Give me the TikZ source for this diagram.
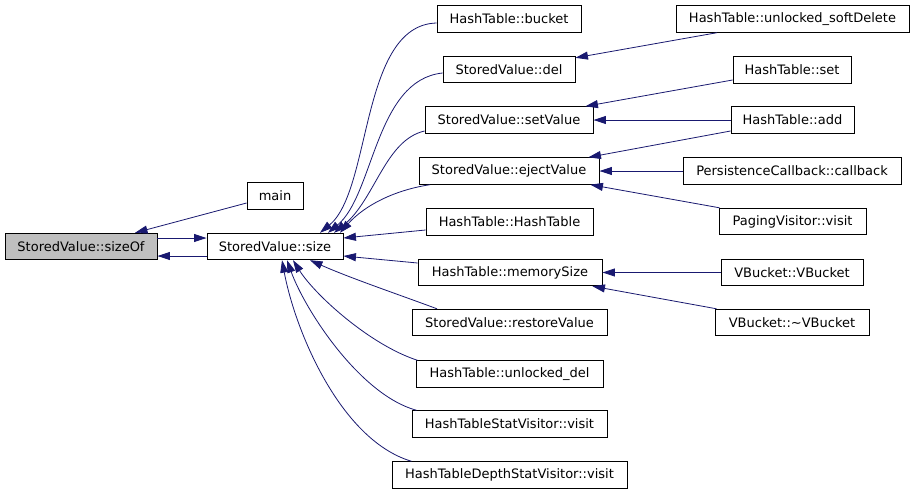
\documentclass[tikz,border=0pt]{standalone}
\usepackage{fontspec}
\setmainfont{DejaVu Sans}
\usetikzlibrary{arrows.meta,calc}
\definecolor{navyc}{RGB}{25,25,112}
\definecolor{grayfill}{RGB}{191,191,191}
\begin{document}
\begin{tikzpicture}[x=1pt,y=-1pt,
  fn/.style={draw=black,line width=0.9pt,fill=white,inner sep=0pt,minimum height=26.5pt,
    font=\fontsize{13}{15}\selectfont,text=black},
  cur/.style={fn,fill=grayfill},
  call/.style={draw=navyc,line width=0.8pt,-{Triangle[length=12.5pt,width=8pt]},fill=none}]
\fill[white] (0,0) rectangle (915,493);
\useasboundingbox (0,0) rectangle (915,493);
% nodes
\node[cur,minimum width=152pt] (sizeof) at (81,246.5) {StoredValue::sizeOf};
\node[fn,minimum width=136pt] (size) at (275,246.5) {StoredValue::size};
\node[fn,minimum width=56pt] (main) at (275,196) {main};
\node[fn,minimum width=144pt] (bucket) at (509,19) {HashTable::bucket};
\node[fn,minimum width=132pt] (del) at (509,69.5) {StoredValue::del};
\node[fn,minimum width=168pt] (setv) at (509,120) {StoredValue::setValue};
\node[fn,minimum width=180pt] (eject) at (509,171) {StoredValue::ejectValue};
\node[fn,minimum width=167pt] (htht) at (509.5,222) {HashTable::HashTable};
\node[fn,minimum width=184pt] (memsz) at (510,272.5) {HashTable::memorySize};
\node[fn,minimum width=195pt] (restore) at (509.5,322.5) {StoredValue::restoreValue};
\node[fn,minimum width=187pt] (udel) at (509.5,374) {HashTable::unlocked\_del};
\node[fn,minimum width=195pt] (statv) at (509.5,424) {HashTableStatVisitor::visit};
\node[fn,minimum width=235pt] (depthv) at (509.5,475) {HashTableDepthStatVisitor::visit};
\node[fn,minimum width=233pt] (softdel) at (792.5,19) {HashTable::unlocked\_softDelete};
\node[fn,minimum width=118pt] (hset) at (792,70) {HashTable::set};
\node[fn,minimum width=123pt] (hadd) at (792.5,120) {HashTable::add};
\node[fn,minimum width=218pt] (pcb) at (792,171) {PersistenceCallback::callback};
\node[fn,minimum width=147pt] (paging) at (792.5,221.5) {PagingVisitor::visit};
\node[fn,minimum width=142pt] (vb) at (792,272.5) {VBucket::VBucket};
\node[fn,minimum width=154pt] (vbd) at (792,322.5) {VBucket::\char"007EVBucket};
% edges into sizeOf
\draw[call] ($(main.west)+(0,7)$) -- ($(sizeof.north)+(54,0)$);
\draw[call] ($(sizeof.east)+(0,-8.5)$) -- ($(size.west)+(0,-8.5)$);
\draw[call] ($(size.west)+(0,9.5)$) -- ($(sizeof.east)+(0,9.5)$);
% edges into size
\draw[call] ($(bucket.west)+(0,4)$) .. controls (360,25) and (372,190) .. ($(size.north)+(45,0)$);
\draw[call] ($(del.west)+(0,3.5)$) .. controls (375,80) and (374,195) .. ($(size.north)+(53,0)$);
\draw[call] ($(setv.west)+(0,11)$) .. controls (385,140) and (375,200) .. ($(size.north)+(59,0)$);
\draw[call] ($(eject.south)+(-79,0)$) .. controls (395,190) and (365,205) .. ($(size.north)+(65,0)$);
\draw[call] ($(htht.west)+(0,8)$) -- ($(size.east)+(0,-8.5)$);
\draw[call] ($(memsz.west)+(0,-9.5)$) -- ($(size.east)+(0,9.5)$);
\draw[call] ($(restore.north)+(-72.5,0)$) .. controls (400,295) and (350,278) .. ($(size.south)+(35,0)$);
\draw[call] ($(udel.north west)+(2,0)$) .. controls (370,345) and (315,295) .. ($(size.south)+(18,0)$);
\draw[call] ($(statv.north west)+(5,0)$) .. controls (360,395) and (305,310) .. ($(size.south)+(12,0)$);
\draw[call] ($(depthv.north west)+(20,0)$) .. controls (340,440) and (295,330) .. ($(size.south)+(7,0)$);
% right side edges
\draw[call] ($(softdel.south)+(-75.5,0)$) -- ($(del.north east)+(0,2)$);
\draw[call] ($(hset.west)+(0,10)$) -- ($(setv.north east)+(-8,0)$);
\draw[call] (hadd.west) -- (setv.east);
\draw[call] ($(hadd.west)+(0,11)$) -- ($(eject.north east)+(-11,0)$);
\draw[call] (pcb.west) -- (eject.east);
\draw[call] ($(paging.north west)+(1,0)$) -- ($(eject.south east)+(-9,0)$);
\draw[call] (vb.west) -- (memsz.east);
\draw[call] ($(vbd.north west)+(2,0)$) -- ($(memsz.south east)+(-10,0)$);
\end{tikzpicture}
\end{document}
